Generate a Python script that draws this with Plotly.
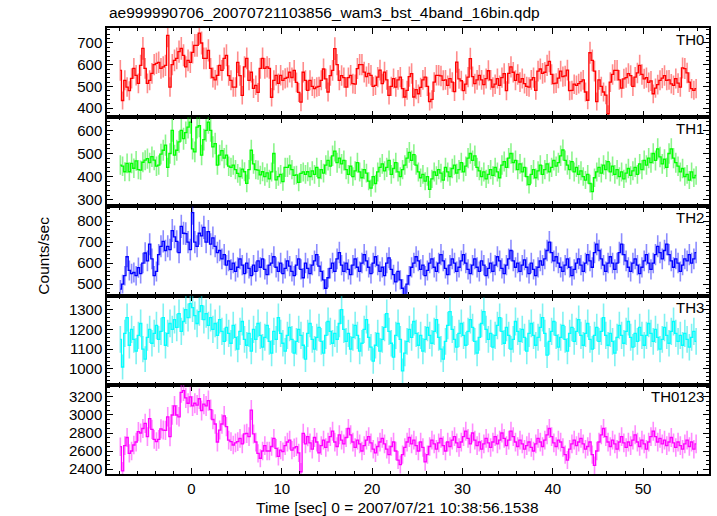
import numpy as np
import plotly.graph_objects as go
from plotly.subplots import make_subplots

# ---- data (counts/sec, 0.25 s bins starting at t = -8 s) ----
T_START = -8.0
BIN_SEC = 0.25

TH0 = [574,435,528,497,480,537,583,551,514,597,
       675,583,514,528,560,600,606,611,583,590,
       597,735,497,600,620,629,660,675,643,590,
       620,611,657,689,689,745,700,629,629,666,
       583,541,530,551,597,574,629,643,550,528,
       497,497,611,550,459,590,629,528,565,491,
       505,472,583,629,583,590,583,450,528,551,
       514,551,528,537,541,565,541,574,518,472,
       427,565,528,
       482,528,500,490,497,500,528,580,535,474,
       550,574,674,600,528,550,540,497,540,551,
       513,510,582,600,600,566,545,560,551,500,
       505,543,575,513,566,530,459,500,536,497,
       530,543,490,451,482,545,559,451,485,466,
       495,530,543,500,430,440,520,551,551,548,
       528,530,505,536,520,476,612,535,526,480,
       510,543,628,545,513,530,551,530,508,536,
       572,530,497,510,536,505,540,559,
       480,560,590,565,528,555,520,536,513,500,
       497,530,540,482,570,580,560,565,597,615,
       555,513,515,538,570,545,548,575,480,482,
       510,505,513,522,530,474,436,655,620,570,
       430,530,500,474,460,374,520,555,574,574,
       530,492,535,540,559,550,500,543,562,597,
       555,535,540,518,525,466,492,508,528,538,
       550,528,530,512,505,536,515,497,585,582,
       562,520,490,482,490]

TH1 = [450,445,421,457,421,457,436,468,430,428,
       462,471,478,460,486,471,445,450,497,514,
       536,440,500,600,493,514,550,600,564,590,
       614,636,520,507,614,620,493,560,600,636,
       600,529,543,450,493,512,480,493,445,440,
       450,430,414,400,432,421,371,430,514,455,
       430,428,407,421,400,416,390,420,500,386,
       400,410,378,440,440,450,430,405,407,375,
       414,420,410,421,
       400,425,410,440,395,430,415,450,
       470,445,490,510,460,480,455,470,
       430,410,445,400,425,460,420,395,
       430,415,380,350,400,370,420,440,
       455,425,440,470,410,435,460,420,
       400,430,450,480,505,470,495,450,
       420,395,410,380,400,345,390,420,
       405,430,415,385,440,420,400,435,
       450,415,430,460,420,445,480,500,
       470,490,440,425,400,420,390,410,
       430,405,440,420,395,450,465,440,
       480,500,460,470,430,455,420,440,
       400,365,410,430,395,425,450,410,
       430,455,420,440,470,445,460,490,
       515,470,450,430,465,420,440,410,
       425,400,385,410,370,335,395,420,
       440,415,450,430,465,420,445,410,
       430,400,420,390,415,435,405,425,
       440,410,455,430,470,450,480,460,
       500,470,520,485,455,475,440,500,
       520,480,460,445,420,435,400,410,
       385,420,395,405]

TH2 = [476,500,540,630,565,550,555,540,578,550,
       600,648,610,690,620,540,560,640,680,703,
       660,680,664,755,725,703,650,775,742,740,
       700,664,840,700,680,742,
       730,770,700,750,690,720,680,650,
       660,620,640,590,610,570,600,560,
       580,620,590,550,600,575,540,590,
       560,610,580,620,570,545,590,600,
       630,580,560,600,550,575,610,585,
       560,540,590,620,570,530,600,575,
       550,590,610,640,585,560,520,480,
       530,575,600,560,620,650,590,560,
       600,570,545,590,620,580,560,600,
       640,610,580,550,600,630,590,560,
       580,540,600,625,570,545,510,560,
       520,480,450,500,540,580,600,630,
       610,570,590,540,565,600,620,580,
       560,600,640,610,575,545,590,620,
       600,560,580,610,640,600,570,550,
       590,620,580,560,610,590,540,575,
       600,560,590,630,610,575,550,590,
       620,660,610,580,600,560,590,615,
       580,550,600,570,540,580,610,590,
       620,660,700,650,610,630,600,580,
       560,590,620,580,540,570,600,620,
       590,560,600,640,610,580,650,690,
       660,620,590,560,600,630,600,570,
       600,650,690,640,610,580,560,600,
       620,590,550,580,610,640,600,570,
       600,640,680,650,620,660,690,640,
       610,580,620,600,560,590,620,610,
       640,600,620,650]

TH3 = [1150,1010,1180,1260,1120,1200,1150,1090,
       1170,1230,1100,1050,1160,1200,1130,1180,
       1220,1150,1190,1260,1120,1180,1230,1200,
       1250,1210,1280,1190,1240,1300,1260,1330,
       1310,1270,1230,1290,1320,1250,1280,1220,
       1260,1200,1230,1170,1250,1190,1140,1210,
       1180,1130,1220,1160,1100,1190,1240,1150,
       1120,1180,1090,1200,1150,1230,1170,1110,
       1160,1220,1140,1080,1190,1150,1260,1180,
       1130,1090,1170,1210,1150,1080,1140,1200,
       1170,1120,1050,1180,1230,1150,1100,1160,
       1210,1140,1080,1170,1240,1190,1130,1180,
       1150,1230,1300,1200,1140,1180,1100,1160,
       1220,1170,1090,1130,1200,1250,1160,1110,
       1040,1120,1180,1090,1150,1210,1280,1190,
       1130,1060,1170,1230,1150,990,1080,1140,
       1200,1160,1240,1180,1120,1170,1090,1150,
       1210,1170,1130,1190,1250,1160,1100,1050,
       1140,1220,1290,1200,1150,1110,1180,1230,
       1170,1120,1190,1250,1210,1140,1080,1160,
       1230,1290,1200,1150,1180,1110,1170,1220,
       1260,1190,1130,1210,1170,1100,1150,1240,
       1190,1140,1200,1160,1090,1180,1230,1170,
       1120,1160,1210,1260,1180,1070,1140,1190,
       1240,1170,1110,1160,1220,1150,1090,1180,
       1210,1140,1190,1250,1170,1120,1180,1230,
       1150,1100,1170,1210,1140,1190,1260,1170,
       1120,1180,1140,1080,1160,1220,1170,1130,
       1190,1240,1160,1110,1180,1140,1210,1170,
       1120,1170,1230,1180,1140,1200,1160,1100,
       1150,1210,1170,1130,1190,1240,1180,1140,
       1170,1120,1180,1150,1110,1160,1190,1140]

TH0123 = [2648,2380,2660,2750,2574,2600,2667,2700,2815,2800,
          2850,2907,2760,2960,2840,2730,2705,2730,2845,2833,
          2830,2980,2759,3000,3100,3000,2980,3250,3270,3190,
          3130,3200,3100,3130,3110,3180,3050,3120,3100,3160,
          3060,2950,2900,2700,2833,2900,2990,2870,2722,2704,
          2667,2690,2704,2740,2680,2790,2796,2760,3055,2790,
          2700,2574,2520,2600,2660,2600,2600,2650,2740,2630,
          2540,2610,2593,2660,2700,2720,2610,2635,2648,2580,
          2370,2796,2680,2759,
          2690,2620,2750,2700,2580,2660,2720,2640,
          2700,2760,2820,2700,2650,2780,2720,2680,
          2750,2850,2780,2700,2640,2720,2680,2600,
          2660,2720,2760,2690,2620,2580,2650,2700,
          2740,2680,2620,2560,2650,2700,2600,2500,
          2450,2560,2640,2700,2750,2680,2720,2660,
          2600,2700,2640,2480,2560,2650,2720,2680,
          2620,2690,2740,2660,2600,2700,2650,2720,
          2760,2690,2640,2700,2760,2820,2740,2680,
          2800,2720,2660,2700,2620,2680,2740,2690,
          2640,2700,2760,2680,2720,2800,2740,2660,
          2720,2820,2760,2700,2650,2720,2680,2620,
          2660,2700,2640,2600,2680,2740,2700,2650,
          2720,2780,2850,2760,2690,2650,2720,2700,
          2640,2560,2500,2620,2680,2720,2660,2700,
          2740,2680,2620,2650,2700,2560,2440,2600,
          2700,2780,2850,2760,2700,2650,2720,2680,
          2620,2700,2760,2690,2640,2700,2660,2720,
          2780,2700,2650,2720,2680,2620,2700,2760,
          2820,2760,2700,2740,2680,2720,2660,2700,
          2750,2690,2640,2700,2660,2620,2680,2720,
          2650,2700,2620,2680]

PANEL_NAMES = ["TH0", "TH1", "TH2", "TH3", "TH0123"]
SERIES = [TH0, TH1, TH2, TH3, TH0123]
TITLE = "ae999990706_20070721103856_wam3_bst_4band_16bin.qdp"
X_TITLE = "Time [sec] 0 = 2007/07/21 10:38:56.1538"
Y_TITLE = "Counts/sec"

# ---- styling ----
COLORS = ["#ff0000", "#00ff00", "#0000ff", "#00ffff", "#ff00ff"]
ERR_COLORS = ["rgba(255,0,0,0.45)", "rgba(0,230,0,0.45)", "rgba(0,0,255,0.45)",
              "rgba(0,230,230,0.5)", "rgba(255,0,255,0.45)"]
Y_RANGES = [[358, 769], [271, 657], [445, 870], [920, 1371], [2345, 3335]]
Y_DTICK = [100, 100, 100, 100, 200]
Y_MINOR = [20, 20, 20, 20, 50]
X_RANGE = [-9.35, 57.3]
FONT = "Liberation Sans, Arial, Helvetica, sans-serif"

fig = make_subplots(rows=5, cols=1, shared_xaxes=True, vertical_spacing=0)

for k, vals in enumerate(SERIES):
    v = np.array(vals, dtype=float)
    t = T_START + BIN_SEC * (np.arange(len(v)) + 0.5)
    err = np.sqrt(v / BIN_SEC)
    fig.add_trace(go.Scatter(
        x=t, y=v, mode="lines",
        line=dict(color=COLORS[k], width=1.3, shape="hvh"),
        error_y=dict(type="data", array=err, visible=True, color=ERR_COLORS[k],
                     thickness=1.6, width=0),
        showlegend=False, hoverinfo="skip"), row=k + 1, col=1)

    fig.update_yaxes(row=k + 1, col=1, range=Y_RANGES[k], dtick=Y_DTICK[k], tick0=0,
                     ticks="inside", ticklen=6, tickwidth=1, tickcolor="black",
                     minor=dict(dtick=Y_MINOR[k], ticklen=3, tickcolor="black", ticks="inside"),
                     showline=True, linecolor="black", linewidth=1.5, mirror="allticks",
                     showgrid=False, zeroline=False,
                     tickfont=dict(size=15, color="black", family=FONT))
    fig.update_xaxes(row=k + 1, col=1, range=X_RANGE, dtick=10, tick0=0,
                     ticks="inside", ticklen=6, tickwidth=1, tickcolor="black",
                     minor=dict(dtick=2, ticklen=3.5, tickcolor="black", ticks="inside"),
                     showline=True, linecolor="black", linewidth=1.5, mirror="allticks",
                     showgrid=False, zeroline=False, showticklabels=(k == 4),
                     tickfont=dict(size=15, color="black", family=FONT))

    fig.add_annotation(text=PANEL_NAMES[k], xref="x domain" if k == 0 else f"x{k+1} domain",
                       yref="y domain" if k == 0 else f"y{k+1} domain",
                       x=1, y=1, xanchor="right", yanchor="top", xshift=-3, yshift=-1,
                       showarrow=False, font=dict(size=15, color="black", family=FONT))

fig.add_annotation(text=TITLE, xref="paper", yref="paper", x=0, y=1.034,
                   xanchor="left", yanchor="middle", showarrow=False,
                   font=dict(size=15.5, color="black", family=FONT))
fig.add_annotation(text=X_TITLE, xref="paper", yref="paper", x=0.482, y=-0.074,
                   xanchor="center", yanchor="middle", showarrow=False,
                   font=dict(size=15.5, color="black", family=FONT))
fig.add_annotation(text=Y_TITLE, xref="paper", yref="paper", x=-0.106, y=0.49,
                   xanchor="center", yanchor="middle", textangle=-90, showarrow=False,
                   font=dict(size=15.5, color="black", family=FONT))

fig.update_layout(width=717, height=516, margin=dict(l=107, r=6, t=28, b=42),
                  paper_bgcolor="white", plot_bgcolor="white",
                  font=dict(family=FONT, color="black"))

fig.write_html("out.html", config={"displayModeBar": False},
               post_script="document.body.style.margin='0px';document.body.style.overflow='hidden';")
